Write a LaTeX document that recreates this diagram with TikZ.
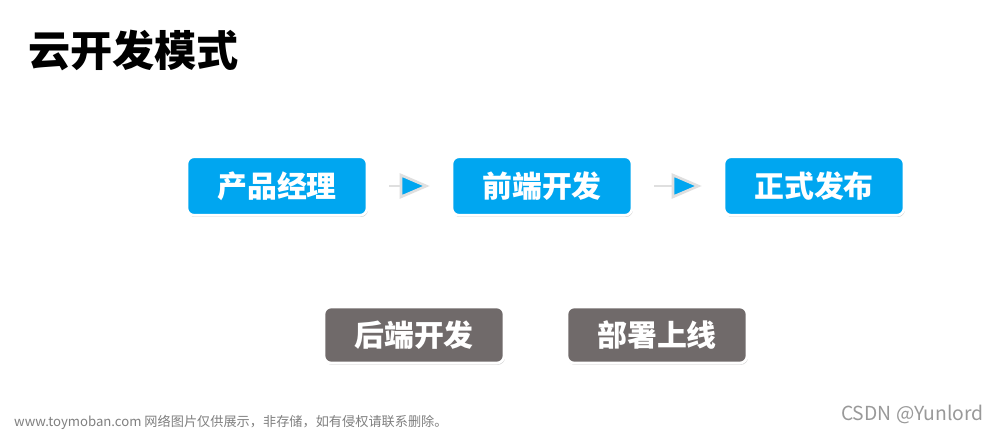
\documentclass[tikz,border=0pt]{standalone}
\usepackage{fontspec}
\newfontfamily\cjk{Noto Sans CJK SC}
\usetikzlibrary{arrows.meta, positioning, shadows}
\definecolor{stepblue}{RGB}{0,166,240}
\definecolor{stepgray}{RGB}{112,106,106}
\tikzset{
  stepbox/.style={rounded corners=4pt, draw=white, line width=1.5pt, minimum width=3.6cm, minimum height=1.17cm,
    text=white, font=\cjk\bfseries\fontsize{17}{17}\selectfont, drop shadow={shadow xshift=0.5pt, shadow yshift=-1pt, opacity=0.35}},
  flow/.style={-{Triangle[length=0.6cm, width=0.5cm, fill=stepblue]}, draw=gray!25, line width=1.5pt, shorten <=0.42cm, shorten >=0.42cm}
}
\begin{document}
\begin{tikzpicture}[x=0.02cm, y=-0.02cm]
    \useasboundingbox[fill=white] (0,0) rectangle (1000,431);

    % title
    \node[anchor=west, font=\cjk\bfseries\fontsize{24}{24}\selectfont] (title) at (22,50) {云开发模式};

    % main flow
    \node[stepbox, fill=stepblue] (pm) at (277,186) {产品经理};
    \node[stepbox, fill=stepblue] (fe) at (542,186) {前端开发};
    \node[stepbox, fill=stepblue] (rel) at (814,186) {正式发布};
    \draw[flow] (pm) -- (fe);
    \draw[flow] (fe) -- (rel);

    % removed steps
    \node[stepbox, fill=stepgray, minimum height=1.12cm] (be) at (414,335) {后端开发};
    \node[stepbox, fill=stepgray, minimum height=1.12cm] (dep) at (657,335) {部署上线};

    % footer
    \node[anchor=west, text=gray, font=\cjk\fontsize{7.5}{8}\selectfont] (src) at (8,422) {www.toymoban.com 网络图片仅供展示，非存储，如有侵权请联系删除。};
    \node[anchor=east, text=gray!80, font=\cjk\fontsize{11}{11}\selectfont] (csdn) at (990,414) {CSDN @Yunlord};
\end{tikzpicture}
\end{document}
